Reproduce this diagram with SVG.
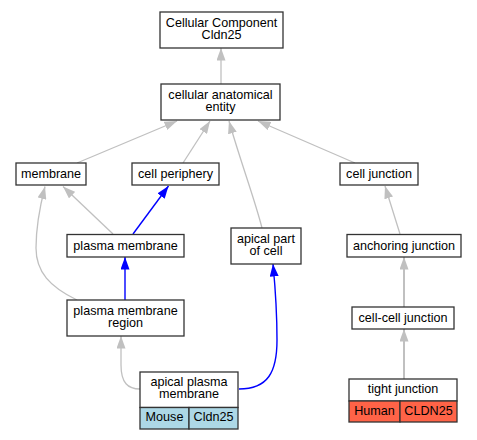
<svg xmlns="http://www.w3.org/2000/svg" width="477" height="440" viewBox="0 0 477 440">
<style>
.n{fill:#fff;stroke:#333;stroke-width:1.3}
text{font-family:"Liberation Sans",Arial,sans-serif;font-size:12.6px;fill:#000;text-anchor:middle}
.g{fill:none;stroke:#c0c0c0;stroke-width:1.3}
.gt{fill:none;stroke:#c0c0c0;stroke-width:2}
.b{fill:none;stroke:#0000ff;stroke-width:1.4}
</style>
<defs>
<marker id="ag" markerUnits="userSpaceOnUse" markerWidth="13" markerHeight="9" refX="12.5" refY="4.5" orient="auto" viewBox="0 0 13 9"><path d="M0,0 L12.5,4.5 L0,9z" fill="#c0c0c0"/></marker>
<marker id="ab" markerUnits="userSpaceOnUse" markerWidth="13" markerHeight="9" refX="12.5" refY="4.5" orient="auto" viewBox="0 0 13 9"><path d="M0,0 L12.5,4.5 L0,9z" fill="#0000ff"/></marker>
</defs>
<rect width="477" height="440" fill="#fff"/>
<g id="edges">
<path class="g" d="M221,84 L221,48" marker-end="url(#ag)"/>
<path class="g" d="M77,163 L177,121" marker-end="url(#ag)"/>
<path class="g" d="M183,163 L210,121" marker-end="url(#ag)"/>
<path class="g" d="M262,228 C255,200 240,160 229,121" marker-end="url(#ag)"/>
<path class="g" d="M355,163 L258,121" marker-end="url(#ag)"/>
<path class="g" d="M113,234 L63,186.5" marker-end="url(#ag)"/>
<path class="g" d="M77,300 C50,287 36,272 36,248 C36,228 40,206 45,186.5" marker-end="url(#ag)"/>
<path class="b" d="M133,234 L168.5,186" marker-end="url(#ab)"/>
<path class="b" d="M125,300 L125,257" marker-end="url(#ab)"/>
<path class="g" d="M140,389 C128,389 121,383 121,365 L121,336" marker-end="url(#ag)"/>
<path class="b" d="M239,389 C268,389 277,372 277,340 C277,305 275,285 273,264" marker-end="url(#ab)"/>
<path class="g" d="M400,234 L385,186" marker-end="url(#ag)"/>
<path class="gt" d="M404,307 L404,257" marker-end="url(#ag)"/>
<path class="gt" d="M404,379 L404,329" marker-end="url(#ag)"/>
</g>
<g id="cc"><rect class="n" x="160" y="12" width="123" height="36"/><text x="221.5" y="26.5">Cellular Component</text><text x="221.5" y="39">Cldn25</text></g>
<g id="cae"><rect class="n" x="161" y="84" width="119" height="36"/><text x="220.5" y="98.5">cellular anatomical</text><text x="220.5" y="111">entity</text></g>
<g id="membrane"><rect class="n" x="16" y="163" width="70" height="22"/><text x="51" y="178">membrane</text></g>
<g id="cellperiphery"><rect class="n" x="132" y="163" width="87" height="22"/><text x="175.5" y="178">cell periphery</text></g>
<g id="celljunction"><rect class="n" x="340" y="163" width="78" height="22"/><text x="379" y="178">cell junction</text></g>
<g id="plasmamembrane"><rect class="n" x="67" y="234.5" width="117" height="22.5"/><text x="125.5" y="249.5">plasma membrane</text></g>
<g id="apicalpart"><rect class="n" x="231" y="228" width="70" height="36"/><text x="266" y="242.5">apical part</text><text x="266" y="255">of cell</text></g>
<g id="anchoring"><rect class="n" x="347" y="234.5" width="114" height="22.5"/><text x="404" y="249.5">anchoring junction</text></g>
<g id="pmr"><rect class="n" x="67" y="300" width="117" height="36"/><text x="125.5" y="314.5">plasma membrane</text><text x="125.5" y="327">region</text></g>
<g id="ccj"><rect class="n" x="352" y="307" width="102" height="22"/><text x="403" y="322">cell-cell junction</text></g>
<g id="apm"><rect class="n" x="140" y="372" width="98" height="35.5"/><rect x="140" y="407.5" width="49" height="21.5" fill="#add8e6" stroke="#333" stroke-width="1.3"/><rect x="189" y="407.5" width="49" height="21.5" fill="#add8e6" stroke="#333" stroke-width="1.3"/><text x="189" y="385.7">apical plasma</text><text x="189" y="398.3">membrane</text><text x="164.5" y="421">Mouse</text><text x="213.5" y="421">Cldn25</text></g>
<g id="tj"><rect class="n" x="349" y="379" width="108" height="22"/><rect x="349" y="401" width="51" height="21" fill="#ff6347" stroke="#333" stroke-width="1.3"/><rect x="400" y="401" width="57" height="21" fill="#ff6347" stroke="#333" stroke-width="1.3"/><text x="403" y="392.7">tight junction</text><text x="374.5" y="414.5">Human</text><text x="428.5" y="414.5">CLDN25</text></g>
</svg>
